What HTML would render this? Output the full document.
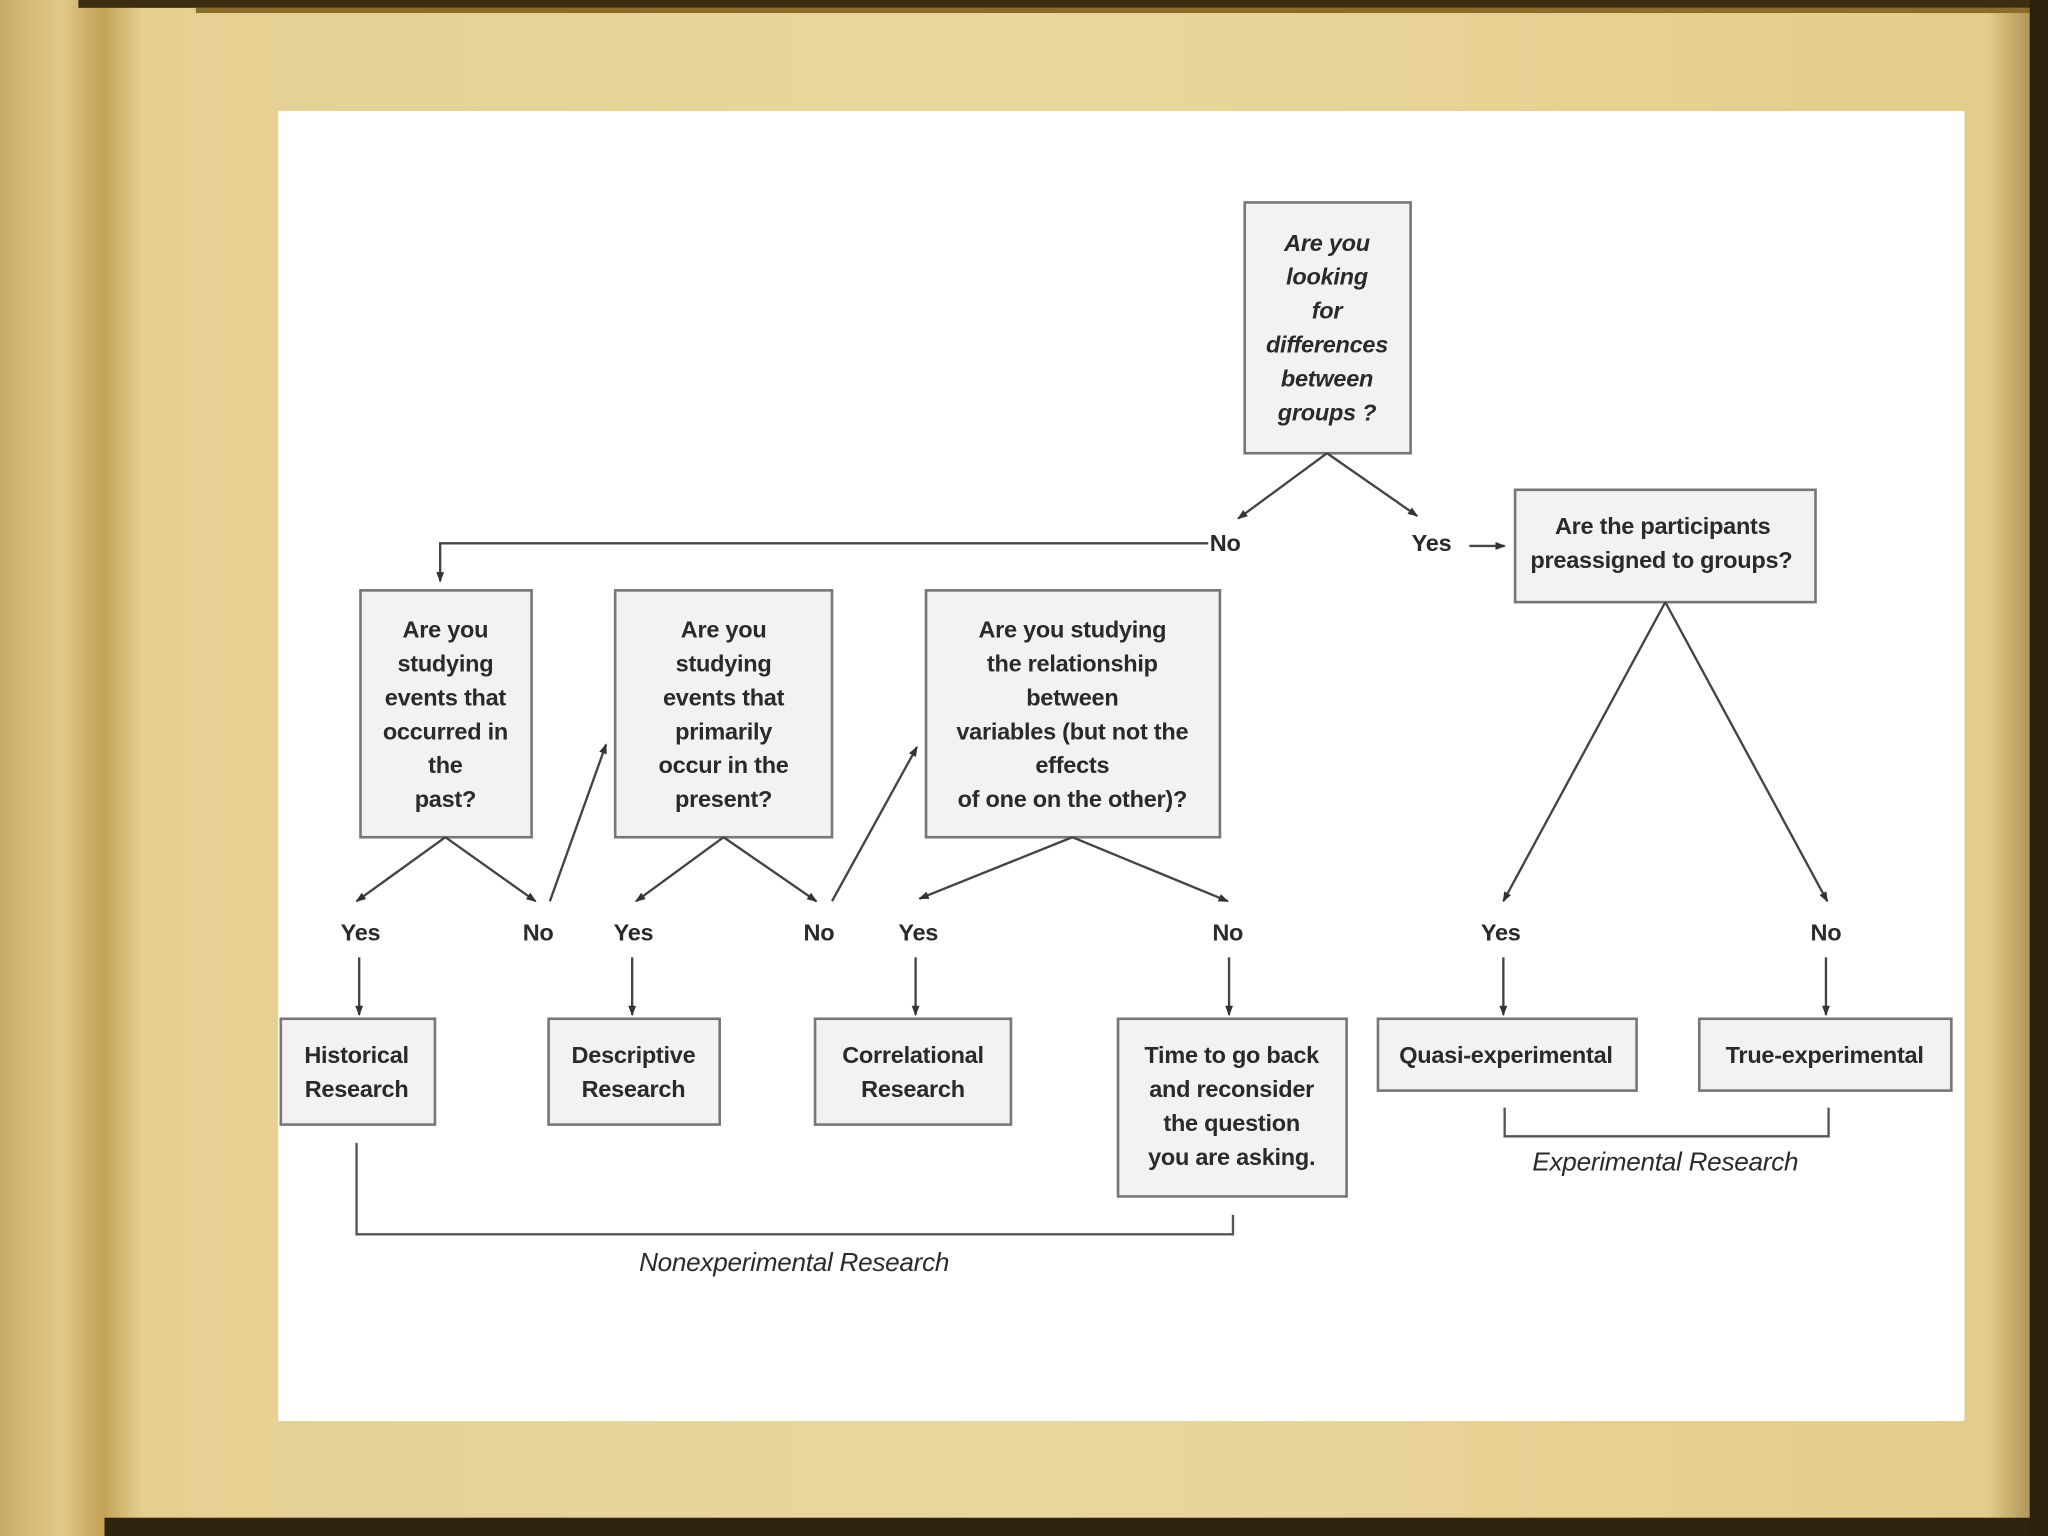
<!DOCTYPE html>
<html><head><meta charset="utf-8"><style>
html,body{margin:0;padding:0;width:2048px;height:1536px;overflow:hidden;background:#d9c07a}
svg{display:block}
text{font-family:"Liberation Sans",Arial,sans-serif;fill:#2a2a2a}
</style></head><body>
<svg width="2048" height="1536" viewBox="0 0 1568 1176" xmlns="http://www.w3.org/2000/svg">
<defs>
<linearGradient id="bg" x1="0" y1="0" x2="1" y2="0">
<stop offset="0" stop-color="#c9ab68"/><stop offset="0.03" stop-color="#e0c98a"/><stop offset="0.05" stop-color="#c4a258"/><stop offset="0.07" stop-color="#e5d092"/><stop offset="0.5" stop-color="#ebd79c"/><stop offset="0.97" stop-color="#e3cc8c"/><stop offset="1" stop-color="#9c8140"/>
</linearGradient>
<marker id="a" markerWidth="8" markerHeight="8" refX="7" refY="4" orient="auto" markerUnits="userSpaceOnUse"><path d="M0,1 L8,4 L0,7 z" fill="#333"/></marker>
</defs>
<rect width="1568" height="1176" fill="url(#bg)"/>
<rect x="60" y="0" width="1508" height="6" fill="#3a2d12"/>
<rect x="150" y="6" width="1410" height="4" fill="#8a6d2a"/>
<rect x="80" y="1162" width="1488" height="14" fill="#2e2310"/>
<rect x="1554" y="0" width="14" height="1176" fill="#2a200c"/>
<rect x="213" y="85" width="1291" height="1003" fill="#fff"/>
<g fill="#f2f2f2" stroke="#777" stroke-width="2">
<rect x="953" y="155" width="127" height="192"/>
<rect x="1160" y="375" width="230" height="86"/>
<rect x="276" y="452" width="131" height="189"/>
<rect x="471" y="452" width="166" height="189"/>
<rect x="709" y="452" width="225" height="189"/>
<rect x="215" y="780" width="118" height="81"/>
<rect x="420" y="780" width="131" height="81"/>
<rect x="624" y="780" width="150" height="81"/>
<rect x="856" y="780" width="175" height="136"/>
<rect x="1055" y="780" width="198" height="55"/>
<rect x="1301" y="780" width="193" height="55"/>
</g>
<g stroke="#444" stroke-width="1.8" fill="none" marker-end="url(#a)">
<line x1="1016" y1="347" x2="948" y2="397"/>
<line x1="1016" y1="347" x2="1085" y2="395"/>
<line x1="1125" y1="418" x2="1152" y2="418"/>
<polyline points="925,416 337,416 337,445"/>
<line x1="341" y1="641" x2="273" y2="690"/>
<line x1="341" y1="641" x2="410" y2="690"/>
<line x1="421" y1="690" x2="464" y2="570"/>
<line x1="554" y1="641" x2="487" y2="690"/>
<line x1="554" y1="641" x2="625" y2="690"/>
<line x1="637" y1="690" x2="702" y2="572"/>
<line x1="821" y1="641" x2="704" y2="688"/>
<line x1="821" y1="641" x2="940" y2="690"/>
<line x1="1275" y1="461" x2="1151" y2="690"/>
<line x1="1275" y1="461" x2="1399" y2="690"/>
<line x1="275" y1="733" x2="275" y2="777"/>
<line x1="484" y1="733" x2="484" y2="777"/>
<line x1="701" y1="733" x2="701" y2="777"/>
<line x1="941" y1="733" x2="941" y2="777"/>
<line x1="1151" y1="733" x2="1151" y2="777"/>
<line x1="1398" y1="733" x2="1398" y2="777"/>
</g>
<g stroke="#555" stroke-width="1.8" fill="none">
<polyline points="273,875 273,945 944,945 944,930"/>
<polyline points="1152,848 1152,870 1400,870 1400,848"/>
</g>
<g font-size="18" font-weight="bold" text-anchor="middle" letter-spacing="-0.2">
<g font-style="italic">
<text x="1016" y="192">Are you</text><text x="1016" y="218">looking</text><text x="1016" y="244">for</text><text x="1016" y="270">differences</text><text x="1016" y="296">between</text><text x="1016" y="322">groups ?</text>
</g>
<text x="1273" y="409">Are the participants</text><text x="1272" y="435">preassigned to groups?</text>
<text x="341" y="488">Are you</text><text x="341" y="514">studying</text><text x="341" y="540">events that</text><text x="341" y="566">occurred in</text><text x="341" y="592">the</text><text x="341" y="618">past?</text>
<text x="554" y="488">Are you</text><text x="554" y="514">studying</text><text x="554" y="540">events that</text><text x="554" y="566">primarily</text><text x="554" y="592">occur in the</text><text x="554" y="618">present?</text>
<text x="821" y="488">Are you studying</text><text x="821" y="514">the relationship</text><text x="821" y="540">between</text><text x="821" y="566">variables (but not the</text><text x="821" y="592">effects</text><text x="821" y="618">of one on the other)?</text>
<text x="273" y="814">Historical</text><text x="273" y="840">Research</text>
<text x="485" y="814">Descriptive</text><text x="485" y="840">Research</text>
<text x="699" y="814">Correlational</text><text x="699" y="840">Research</text>
<text x="943" y="814">Time to go back</text><text x="943" y="840">and reconsider</text><text x="943" y="866">the question</text><text x="943" y="892">you are asking.</text>
<text x="1153" y="814">Quasi-experimental</text>
<text x="1397" y="814">True-experimental</text>
<text x="938" y="422">No</text><text x="1096" y="422">Yes</text>
<text x="276" y="720">Yes</text><text x="412" y="720">No</text>
<text x="485" y="720">Yes</text><text x="627" y="720">No</text>
<text x="703" y="720">Yes</text><text x="940" y="720">No</text>
<text x="1149" y="720">Yes</text><text x="1398" y="720">No</text>
<g font-style="italic" font-size="20" font-weight="normal">
<text x="608" y="973">Nonexperimental Research</text>
<text x="1275" y="896">Experimental Research</text>
</g>
</g>
</svg>
</body></html>
